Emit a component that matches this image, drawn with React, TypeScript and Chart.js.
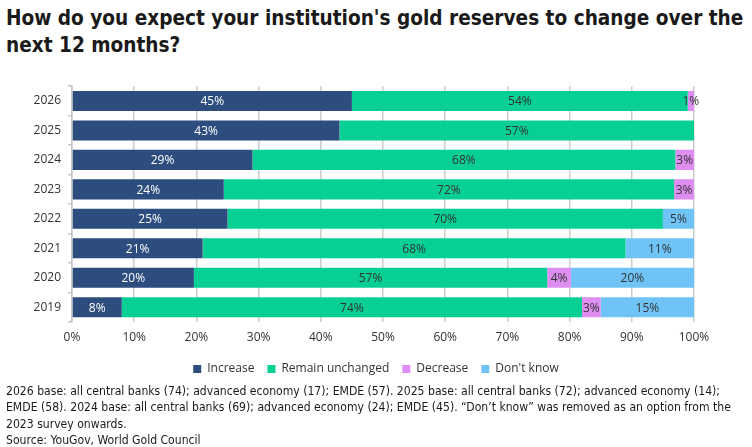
import { useRef, useEffect } from "react";
import { Chart, registerables } from "chart.js";

Chart.register(...registerables);

const years = ["2026", "2025", "2024", "2023", "2022", "2021", "2020", "2019"];

const increase = [45, 43, 29, 24.4, 25, 21, 19.6, 8];
const unchanged = [54, 57, 68, 72.4, 70, 68, 56.8, 74];
const decrease = [1, 0, 3, 3.2, 0, 0, 3.8, 3];
const dontKnow = [0, 0, 0, 0, 5, 11, 19.8, 15];

const xTicks = [0, 10, 20, 30, 40, 50, 60, 70, 80, 90, 100];

const tickFont = "'Open Sans', 'Noto Sans', sans-serif";
const textFont = "'DejaVu Sans Condensed', 'DejaVu Sans', sans-serif";

// draws the % label in the middle of every segment
const segmentLabels = {
  id: "segmentLabels",
  afterDatasetsDraw(chart: Chart) {
    const ctx = chart.ctx;
    ctx.save();
    ctx.font = `12px ${tickFont}`;
    ctx.textAlign = "center";
    ctx.textBaseline = "middle";
    chart.data.datasets.forEach((ds, i) => {
      const meta = chart.getDatasetMeta(i);
      meta.data.forEach((bar: any, j: number) => {
        const v = ds.data[j] as number;
        if (!v) return;
        ctx.fillStyle = i === 0 ? "#ffffff" : "#333333";
        ctx.fillText(`${Math.round(v)}%`, (bar.x + bar.base) / 2, bar.y + 1);
      });
    });
    ctx.restore();
  },
};

function GoldChart() {
  const canvasRef = useRef<HTMLCanvasElement | null>(null);
  const chartRef = useRef<Chart | null>(null);

  useEffect(() => {
    if (!canvasRef.current) return;
    if (chartRef.current) chartRef.current.destroy();

    chartRef.current = new Chart(canvasRef.current, {
      type: "bar",
      data: {
        labels: years,
        datasets: [
          { label: "Increase", data: increase, backgroundColor: "#2c4d7e" },
          { label: "Remain unchanged", data: unchanged, backgroundColor: "#08d094" },
          { label: "Decrease", data: decrease, backgroundColor: "#de8ef1" },
          { label: "Don't know", data: dontKnow, backgroundColor: "#6fc3f7" },
        ],
      },
      options: {
        indexAxis: "y",
        animation: false,
        responsive: false,
        devicePixelRatio: 1,
        layout: { padding: { top: 10, right: 0, left: 0, bottom: 3 } },
        datasets: {
          bar: { barPercentage: 0.68, categoryPercentage: 1, borderWidth: 0 },
        },
        scales: {
          x: {
            stacked: true,
            min: 0,
            max: 100,
            afterBuildTicks: (scale: any) => {
              scale.ticks = xTicks.map((v) => ({ value: v }));
            },
            afterFit: (scale: any) => {
              scale.height = 28;
            },
            border: { display: false },
            grid: { color: "#cccccc", lineWidth: 1.5, tickLength: 0 },
            ticks: {
              padding: 8,
              color: "#333333",
              font: { family: tickFont, size: 12 },
              callback: (v: any) => `${v}%`,
            },
          },
          y: {
            stacked: true,
            afterFit: (scale: any) => {
              scale.width = 72;
            },
            border: { display: true, color: "#c4c4c4", width: 1.5 },
            grid: { drawOnChartArea: false, tickLength: 4, color: "#c4c4c4", lineWidth: 1.5 },
            ticks: {
              padding: 7,
              color: "#333333",
              font: { family: tickFont, size: 12 },
            },
          },
          // empty right-hand axis that only reserves the right margin
          yRight: {
            position: "right",
            afterFit: (scale: any) => {
              scale.width = 58;
            },
            border: { display: false },
            grid: { display: false },
            ticks: { display: false },
          },
        },
        plugins: {
          legend: {
            position: "bottom",
            labels: {
              boxWidth: 8,
              boxHeight: 8,
              padding: 13,
              color: "#333333",
              font: { family: tickFont, size: 12 },
            },
          },
          tooltip: { enabled: false },
        },
      },
      plugins: [segmentLabels],
    });

    return () => {
      if (chartRef.current) {
        chartRef.current.destroy();
        chartRef.current = null;
      }
    };
  }, []);

  return <canvas ref={canvasRef} width={752} height={316} />;
}

export default function App() {
  return (
    <div
      style={{
        position: "absolute",
        top: 0,
        left: 0,
        width: 752,
        height: 447,
        background: "#ffffff",
        overflow: "hidden",
        color: "#222222",
      }}
    >
      <div
        style={{
          position: "absolute",
          left: 6,
          top: 5,
          fontFamily: textFont,
          fontWeight: "bold",
          fontSize: 20.6,
          lineHeight: "27px",
          color: "#1a1a1a",
          whiteSpace: "nowrap",
        }}
      >
        How do you expect your institution's gold reserves to change over the
        <br />
        next 12 months?
      </div>
      <div style={{ position: "absolute", left: 0, top: 72 }}>
        <GoldChart />
      </div>
      <div
        style={{
          position: "absolute",
          left: 6,
          top: 383,
          fontFamily: textFont,
          fontSize: 12.1,
          lineHeight: "16.3px",
          color: "#1a1a1a",
          whiteSpace: "nowrap",
        }}
      >
        2026 base: all central banks (74); advanced economy (17); EMDE (57). 2025 base: all central
        banks (72); advanced economy (14);
        <br />
        EMDE (58). 2024 base: all central banks (69); advanced economy (24); EMDE (45). “Don’t know”
        was removed as an option from the
        <br />
        2023 survey onwards.
        <br />
        Source: YouGov, World Gold Council
      </div>
    </div>
  );
}
